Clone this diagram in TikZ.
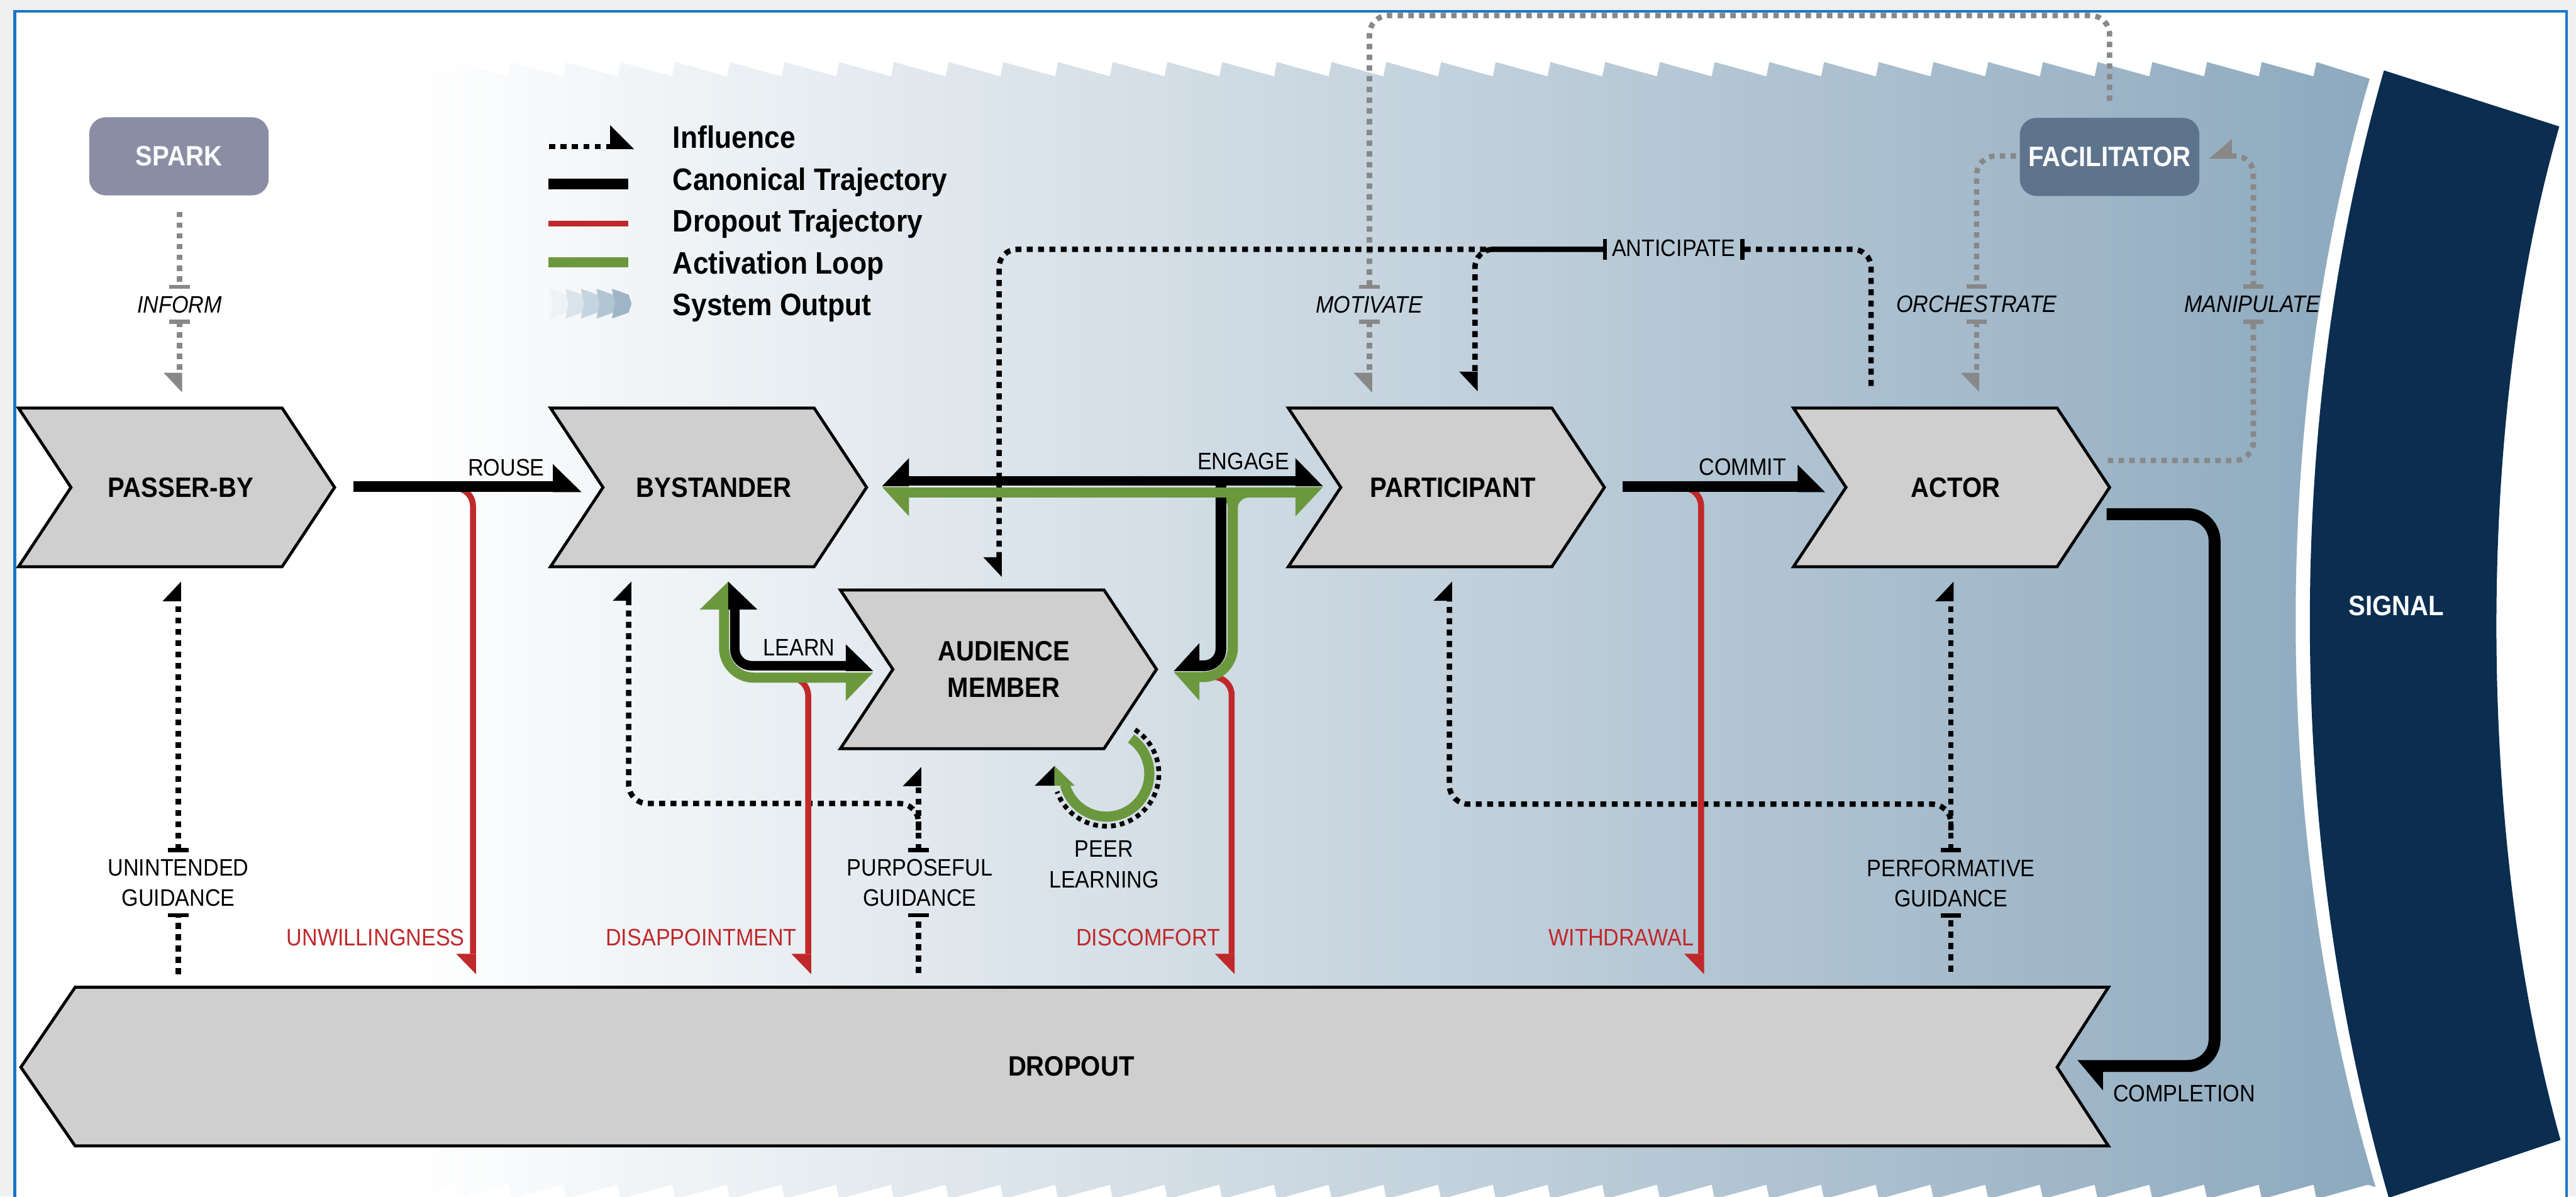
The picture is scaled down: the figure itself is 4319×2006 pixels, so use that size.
\documentclass[tikz,border=0pt]{standalone}
\usepackage{fontspec}
\setmainfont{Liberation Sans}[FakeStretch=0.9]
\usetikzlibrary{calc}
\definecolor{chevfill}{HTML}{CFCFCF}
\definecolor{sparkc}{HTML}{8A8DA3}
\definecolor{facc}{HTML}{5E738C}
\definecolor{signalc}{HTML}{0A2D50}
\definecolor{steel}{HTML}{8DA9BE}
\definecolor{redc}{HTML}{C0282A}
\definecolor{greenc}{HTML}{6B983D}
\definecolor{grayc}{HTML}{888888}
\definecolor{framec}{HTML}{1A76C8}
\definecolor{outerc}{HTML}{F0F0F0}
\newcommand\fB{\fontsize{47pt}{61pt}\selectfont\bfseries}
\newcommand\fL{\fontsize{52pt}{62pt}\selectfont\bfseries}
\newcommand\fS{\fontsize{40pt}{51pt}\selectfont}
\newcommand\fI{\fontsize{40pt}{51pt}\selectfont\itshape}
\newcommand\halftip[4][black]{\fill[#1] (#2) -- ++(#3) -- ++(#4) -- cycle;}
\newcommand\tbarh[2][black]{\draw[#1,line width=7pt] ($(#2)+(-17,0)$) -- ($(#2)+(17,0)$);}
\newcommand\tbarv[2][black]{\draw[#1,line width=7pt] ($(#2)+(0,-17)$) -- ($(#2)+(0,17)$);}
\tikzset{
  chevstyle/.style={fill=chevfill, draw=black, line width=5pt, line join=miter},
  chev/.pic={\draw[chevstyle] (0,0) -- (442,0) -- (530,133) -- (442,266) -- (0,266) -- (88,133) -- cycle;},
  ctext/.style={font=\fB, inner sep=0pt, align=center},
  infl/.style={black, line width=9pt, dash pattern=on 10pt off 9pt},
  ginfl/.style={grayc, line width=9pt, dash pattern=on 9pt off 9pt},
  canon/.style={black, line width=18pt},
  greenl/.style={greenc, line width=17pt},
  redl/.style={redc, line width=10pt},
  slbl/.style={font=\fS, inner sep=0pt, align=center},
  ilbl/.style={font=\fI, inner sep=0pt},
  rlbl/.style={font=\fS, inner sep=0pt, text=redc, anchor=east},
  legtxt/.style={font=\fL, anchor=base west, inner sep=0pt},
  box/.style={rounded corners=28pt, minimum width=301pt, minimum height=131pt, inner sep=0pt, font=\fB, text=white}
}
\begin{document}
\begin{tikzpicture}[x=1pt,y=-1pt]
\useasboundingbox (0,0) rectangle (4319,2006);
\fill[outerc] (0,0) rectangle (4319,2006);
\fill[white] (25,19) rectangle (4303,2040);
% system output background
\shade[left color=white,right color=steel] (673.27,104)
  \foreach \k in {1,...,35}{ -- ({673.27+91.73*\k-5},128) -- ({673.27+91.73*\k},104) }
  -- (3973,132) .. controls (3806,700) and (3806,1400) .. (3983,1990) -- (3970,1986)
  \foreach \k in {35,...,1}{ -- ({673.27+91.73*\k},2010) -- ({673.27+91.73*\k-5},1986) }
  -- (673.27,2010) -- cycle;
% signal
\fill[signalc] (3997,118) -- (4291,212) .. controls (4150,700) and (4150,1400) .. (4293,1911)
  -- (4005,2008) .. controls (3830,1400) and (3830,700) .. (3997,118) -- cycle;
\node[ctext, text=white] (signal) at (4018,1016) {SIGNAL};

% legend
\coordinate (lg0) at (921,245.5);
\coordinate (lg1) at (1023,245.5);
\coordinate (lgT) at (1063,250);
\draw[infl] (lg0) -- (lg1);
\halftip{lgT}{-40,0}{0,-40}
\fill[black] (919,299) rectangle (1053,317);
\fill[redc] (919,370) rectangle (1053,380);
\fill[greenc] (919,431) rectangle (1053,448);
\foreach \i/\c in {0/15,1/32,2/50,3/68,4/86}{
  \fill[steel!\c!white] ({922+26*\i},484) -- ++(28,10) -- ++(5,15) -- ++(-5,15) -- ++(-28,10) -- ++(5,-25) -- cycle;}
\node[legtxt] (lgI) at (1128,248) {Influence};
\node[legtxt] (lgC) at (1128,319) {Canonical Trajectory};
\node[legtxt] (lgD) at (1128,389) {Dropout Trajectory};
\node[legtxt] (lgA) at (1128,459) {Activation Loop};
\node[legtxt] (lgS) at (1128,529) {System Output};

% nodes
\pic at (31,684) {chev};
\pic at (923,684) {chev};
\pic at (2160,684) {chev};
\pic at (3007,684) {chev};
\pic at (1409,989) {chev};
\draw[chevstyle] (35,1789) -- (126,1655) -- (3535,1655) -- (3449,1789) -- (3535,1921) -- (126,1921) -- cycle;
\node[ctext] (passer) at (303,817) {PASSER-BY};
\node[ctext] (bystander) at (1197,817) {BYSTANDER};
\node[ctext] (participant) at (2436,817) {PARTICIPANT};
\node[ctext] (actor) at (3279,817) {ACTOR};
\node[ctext] (audience) at (1683,1122) {AUDIENCE\\MEMBER};
\node[ctext] (dropout) at (1796,1787) {DROPOUT};
\node[box, fill=sparkc] (spark) at (300,262) {SPARK};
\node[box, fill=facc] (facilitator) at (3537,263) {FACILITATOR};

% ---------- influence (gray) ----------
\coordinate (inf0) at (301,355); \coordinate (inf1) at (301,481);
\coordinate (inf2) at (301,539); \coordinate (inf3) at (301,625);
\coordinate (infT) at (305.5,658);
\draw[ginfl] (inf0) -- (inf1); \tbarh[grayc]{inf1}
\node[ilbl] (informl) at (301,511) {INFORM};
\tbarh[grayc]{inf2} \draw[ginfl] (inf2) -- (inf3);
\halftip[grayc]{infT}{0,-33}{-31,0}

\coordinate (mot0) at (3537,169); \coordinate (motc) at (2296,26);
\coordinate (mot1) at (2296,481); \coordinate (mot2) at (2296,539);
\coordinate (mot3) at (2296,625); \coordinate (motT) at (2300.5,658);
\draw[ginfl, rounded corners=32pt] (mot0) |- (motc) -- (mot1); \tbarh[grayc]{mot1}
\node[ilbl] (motl) at (2296,511) {MOTIVATE};
\tbarh[grayc]{mot2} \draw[ginfl] (mot2) -- (mot3);
\halftip[grayc]{motT}{0,-33}{-31,0}

\coordinate (orc0) at (3380,261.5); \coordinate (orc1) at (3314,480);
\coordinate (orc2) at (3314,539); \coordinate (orc3) at (3314,625);
\coordinate (orcT) at (3318.5,657);
\draw[ginfl, rounded corners=32pt] (orc0) -| (orc1); \tbarh[grayc]{orc1}
\node[ilbl] (orcl) at (3314,510) {ORCHESTRATE};
\tbarh[grayc]{orc2} \draw[ginfl] (orc2) -- (orc3);
\halftip[grayc]{orcT}{0,-32}{-31,0}

\coordinate (man0) at (3534,772); \coordinate (man1) at (3778,539);
\coordinate (man2) at (3778,480); \coordinate (man3) at (3742,261.5);
\coordinate (manT) at (3704,266);
\draw[ginfl, rounded corners=32pt] (man0) -| (man1); \tbarh[grayc]{man1}
\node[ilbl] (manl) at (3776,510) {MANIPULATE};
\tbarh[grayc]{man2} \draw[ginfl, rounded corners=30pt] (man2) |- (man3);
\halftip[grayc]{manT}{38,0}{0,-33}

% ---------- influence (black) ----------
\coordinate (ant0) at (3137,647); \coordinate (ant1) at (2921,418);
\coordinate (ant2) at (2691,418); \coordinate (ant3) at (2473,623);
\coordinate (ant4) at (1675,934);
\coordinate (antT1) at (2477.5,656); \coordinate (antT2) at (1679.5,967);
\draw[infl, rounded corners=30pt] (ant0) |- (ant1); \tbarv{ant1}
\node[slbl] (antl) at (2806,416) {ANTICIPATE};
\tbarv{ant2}
\draw[infl, rounded corners=30pt] (ant2) -| (ant3);
\draw[infl, rounded corners=30pt, dash phase=9.5pt] (ant2) -| (ant4);
\halftip{antT1}{0,-33}{-31,0}
\halftip{antT2}{0,-33}{-31,0}

\coordinate (un0) at (299,1633); \coordinate (un1) at (299,1534);
\coordinate (un2) at (299,1425); \coordinate (un3) at (299,1008);
\coordinate (unT) at (303.5,975);
\draw[infl] (un0) -- (un1); \tbarh{un1}
\node[slbl] (unl) at (299,1480) {UNINTENDED\\GUIDANCE};
\tbarh{un2} \draw[infl] (un2) -- (un3);
\halftip{unT}{0,33}{-31,0}

\coordinate (pu0) at (1540,1631); \coordinate (pu1) at (1540,1534);
\coordinate (pu2) at (1540,1425); \coordinate (pu3) at (1540,1318);
\coordinate (puT) at (1544.5,1286);
\coordinate (pub) at (1540,1392); \coordinate (puc) at (1054,1347);
\coordinate (pu4) at (1054,1007); \coordinate (puT2) at (1058.5,975);
\draw[infl] (pu0) -- (pu1); \tbarh{pu1}
\node[slbl] (pul) at (1542,1480) {PURPOSEFUL\\GUIDANCE};
\tbarh{pu2} \draw[infl] (pu2) -- (pu3);
\draw[infl, rounded corners=32pt] (pub) |- (puc) -- (pu4);
\halftip{puT}{0,32}{-31,0}
\halftip{puT2}{0,32}{-31,0}

\coordinate (pf0) at (3271,1629); \coordinate (pf1) at (3271,1535);
\coordinate (pf2) at (3271,1425); \coordinate (pf3) at (3271,1008);
\coordinate (pfT) at (3275.5,975);
\coordinate (pfb) at (3271,1392); \coordinate (pfc) at (2430,1348);
\coordinate (pf4) at (2430,1007); \coordinate (pfT2) at (2434.5,975);
\draw[infl] (pf0) -- (pf1); \tbarh{pf1}
\node[slbl] (pfl) at (3271,1481) {PERFORMATIVE\\GUIDANCE};
\tbarh{pf2} \draw[infl] (pf2) -- (pf3);
\draw[infl, rounded corners=32pt] (pfb) |- (pfc) -- (pf4);
\halftip{pfT}{0,33}{-31,0}
\halftip{pfT2}{0,32}{-31,0}

% ---------- dropout (red) ----------
\coordinate (rw0) at (760,818); \coordinate (rw1) at (793,1599); \coordinate (rwT) at (798,1633);
\coordinate (rd0) at (1322,1136); \coordinate (rd1) at (1355,1599); \coordinate (rdT) at (1360,1633);
\coordinate (rc0) at (2034,1135); \coordinate (rc1) at (2065,1599); \coordinate (rcT) at (2070,1633);
\coordinate (rt0) at (2820,818); \coordinate (rt1) at (2852,1599); \coordinate (rtT) at (2857,1633);
\draw[redl, rounded corners=30pt] (rw0) -| (rw1); \halftip[redc]{rwT}{0,-34}{-33,0}
\draw[redl, rounded corners=30pt] (rd0) -| (rd1); \halftip[redc]{rdT}{0,-34}{-33,0}
\draw[redl, rounded corners=30pt] (rc0) -| (rc1); \halftip[redc]{rcT}{0,-34}{-33,0}
\draw[redl, rounded corners=30pt] (rt0) -| (rt1); \halftip[redc]{rtT}{0,-34}{-33,0}
\node[rlbl] (rwl) at (779,1572) {UNWILLINGNESS};
\node[rlbl] (rdl) at (1336,1572) {DISAPPOINTMENT};
\node[rlbl] (rcl) at (2046,1572) {DISCOMFORT};
\node[rlbl] (rtl) at (2840,1572) {WITHDRAWAL};

% ---------- activation loop (green) ----------
\coordinate (eg0) at (1524,826); \coordinate (eg1) at (2172,826);
\coordinate (egTR) at (2218,816.5); \coordinate (egTL) at (1479,816.5);
\coordinate (egv) at (2067,826); \coordinate (egh) at (2011,1135);
\coordinate (egTA) at (1968,1126.5);
\draw[greenl] (eg0) -- (eg1);
\halftip[greenc]{egTR}{-46,0}{0,49}
\halftip[greenc]{egTL}{45,0}{0,49}
\draw[greenl, rounded corners=50pt] (egv) |- (egh);
\fill[greenc] (2040,834) .. controls (2050,834) and (2059,842) .. (2059,852) -- (2059,834) -- cycle;
\fill[greenc] (2094,834) .. controls (2084,834) and (2075,842) .. (2075,852) -- (2075,834) -- cycle;
\halftip[greenc]{egTA}{43,0}{0,48}

\coordinate (lgv) at (1214,1022); \coordinate (lgh) at (1418,1136);
\coordinate (lnTU) at (1221,975); \coordinate (lnTR) at (1464,1127.5);
\draw[greenl, rounded corners=50pt] (lgv) |- (lgh);
\halftip[greenc]{lnTU}{0,47}{-48,0}
\halftip[greenc]{lnTR}{-46,0}{0,47.5}

% peer learning loop
\coordinate (peerC) at (1855,1297);
\coordinate (peerT) at (1768,1284);
\draw[infl, line width=8pt, dash pattern=on 8pt off 7pt] (peerC) ++(-57:88) arc[start angle=-57, end angle=160, radius=88];
\draw[greenl] (peerC) ++(-55:72) arc[start angle=-55, end angle=165, radius=72];
\halftip[greenc]{peerT}{0,33}{34,0}
\halftip{peerT}{0,33}{-33,0}
\node[slbl] (peerl) at (1851,1449) {PEER\\LEARNING};

% ---------- canonical (black) ----------
\coordinate (ro0) at (593,816); \coordinate (ro1) at (928,816); \coordinate (roT) at (975,825);
\draw[canon] (ro0) -- (ro1); \halftip{roT}{-48,0}{0,-47}
\node[slbl, anchor=east] (rousel) at (913,784) {ROUSE};

\coordinate (cm0) at (2720,816); \coordinate (cm1) at (3015,816); \coordinate (cmT) at (3060,825);
\draw[canon] (cm0) -- (cm1); \halftip{cmT}{-46,0}{0,-46}
\node[slbl, anchor=east] (commitl) at (2995,783) {COMMIT};

\coordinate (eb0) at (1524,806); \coordinate (eb1) at (2172,806);
\coordinate (ebTR) at (2218,815); \coordinate (ebTL) at (1479,815);
\draw[canon, line width=16pt] (eb0) -- (eb1);
\halftip{ebTR}{-46,0}{0,-47}
\halftip{ebTL}{45,0}{0,-47}
\node[slbl, anchor=east] (engagel) at (2162,773) {ENGAGE};
\coordinate (ebv) at (2047,806); \coordinate (ebh) at (2011,1116); \coordinate (ebTA) at (1968,1125);
\draw[canon, rounded corners=28pt] (ebv) |- (ebh);
\halftip{ebTA}{43,0}{0,-47}
% redraw green bar part over black vertical
\draw[greenl] (2030,826) -- (2080,826);

\coordinate (lbv) at (1232,1022); \coordinate (lbh) at (1418,1116);
\coordinate (lbTU) at (1221,975); \coordinate (lbTR) at (1464,1125);
\draw[canon, line width=16pt, rounded corners=28pt] (lbv) |- (lbh);
\halftip{lbTU}{0,47}{49,0}
\halftip{lbTR}{-46,0}{0,-45}
\node[slbl, anchor=east] (learnl) at (1400,1085) {LEARN};

\coordinate (co0) at (3532,862); \coordinate (co1) at (3713,1787); \coordinate (co2) at (3526,1787);
\coordinate (coT) at (3483,1777);
\draw[canon, line width=20pt, rounded corners=45pt] (co0) -| (co1) -- (co2);
\halftip{coT}{43,0}{0,51}
\node[slbl, anchor=west] (completionl) at (3543,1833) {COMPLETION};

% frame
\draw[framec, line width=5pt] (25,2060) -- (25,19) -- (4303,19) -- (4303,2060);
\end{tikzpicture}
\end{document}
